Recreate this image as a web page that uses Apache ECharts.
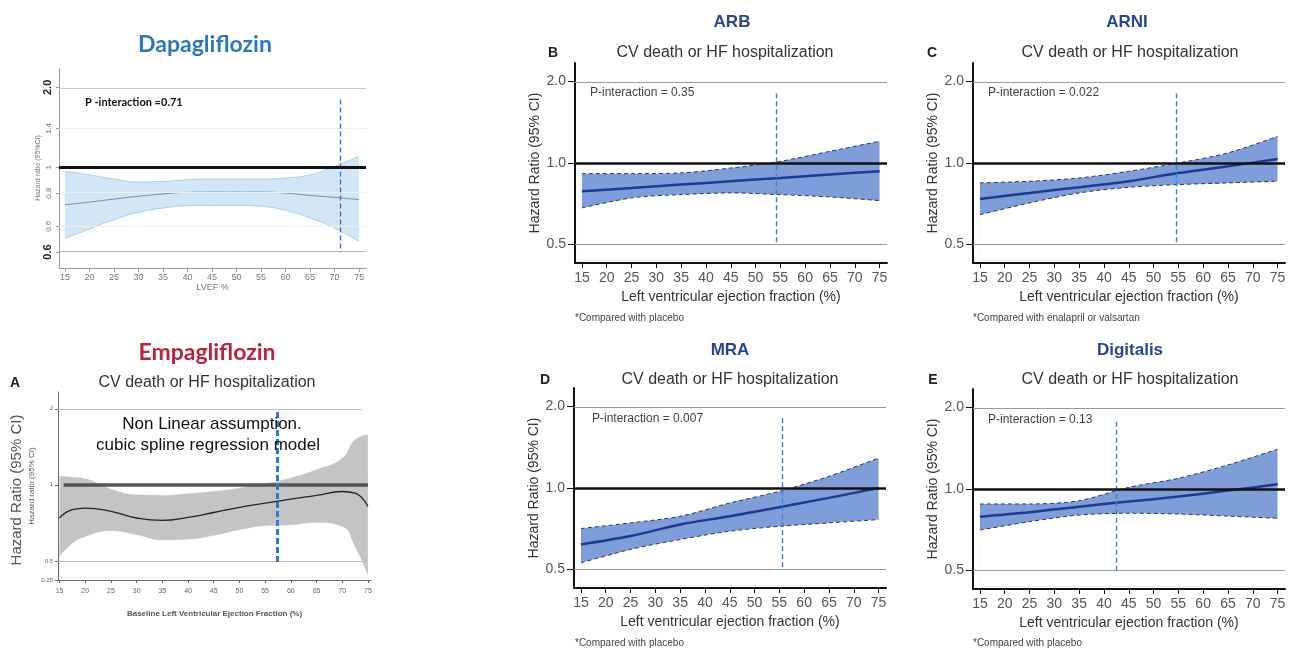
<!DOCTYPE html>
<html lang="en">
<head>
<meta charset="UTF-8">
<title>Hazard ratio vs LVEF</title>
<script src="https://cdn.jsdelivr.net/npm/echarts@6/dist/echarts.min.js"></script>
<style>
  html, body { margin: 0; padding: 0; background: #fff; }
  #main { width: 1295px; height: 653px; }
</style>
</head>
<body>
<div id="main"></div>
<script>
// x ticks shared by every panel
var efTicks = [15, 20, 25, 30, 35, 40, 45, 50, 55, 60, 65, 70, 75];
var efStep = [15, 25, 35, 45, 55, 65, 75];

// Dapagliflozin
var dapaEF = [15, 20, 25, 30, 35, 40, 45, 50, 55, 60, 65, 70, 75];
var dapaHR = [0.723, 0.740, 0.760, 0.778, 0.794, 0.805, 0.807, 0.807, 0.807, 0.800, 0.784, 0.771, 0.756];
var dapaLow = [0.539, 0.586, 0.635, 0.677, 0.703, 0.717, 0.719, 0.719, 0.713, 0.689, 0.645, 0.591, 0.526];
var dapaUp = [0.966, 0.938, 0.904, 0.881, 0.886, 0.899, 0.904, 0.904, 0.904, 0.912, 0.938, 1.009, 1.100];
var dapaYTicks = [2.0, 1.4, 1, 0.8, 0.6, 0.48];
var dapaYLabels = ['2.0', '1.4', '1', '0.8', '0.6', '0.6'];
var dapaCut = 71.2;

// Empagliflozin
var empaEF = [15, 17.5, 20, 25, 30, 35, 40, 45, 50, 55, 60, 65, 70, 72.5, 75];
var empaHR = [0.739, 0.797, 0.809, 0.785, 0.739, 0.723, 0.743, 0.777, 0.814, 0.846, 0.878, 0.908, 0.941, 0.927, 0.821];
var empaLow = [0.521, 0.588, 0.625, 0.658, 0.635, 0.606, 0.610, 0.631, 0.664, 0.689, 0.695, 0.710, 0.685, 0.571, 0.441];
var empaUp = [1.079, 1.072, 1.056, 0.961, 0.913, 0.908, 0.922, 0.941, 0.970, 1.009, 1.063, 1.146, 1.274, 1.505, 1.575];
var empaYTicks = [2, 1, 0.5, 0.42];
var empaYLabels = ['2', '1', '0.5', '0.25'];
var empaCut = 57.4;

// ARB
var arbHR = [0.786, 0.808, 0.832, 0.856, 0.880, 0.906, 0.932];
var arbLow = [0.682, 0.743, 0.764, 0.775, 0.764, 0.749, 0.726];
var arbUp = [0.913, 0.913, 0.919, 0.958, 1.014, 1.104, 1.202];
var arbCut = 54.2;

// ARNI
var arniHR = [0.736, 0.775, 0.813, 0.856, 0.918, 0.972, 1.035];
var arniLow = [0.644, 0.712, 0.775, 0.813, 0.832, 0.844, 0.856];
var arniUp = [0.844, 0.856, 0.880, 0.932, 1.000, 1.089, 1.254];
var arniCut = 54.6;

// MRA
var mraHR = [0.618, 0.664, 0.733, 0.786, 0.849, 0.919, 1.000];
var mraLow = [0.529, 0.593, 0.645, 0.692, 0.722, 0.743, 0.764];
var mraUp = [0.708, 0.743, 0.786, 0.880, 0.972, 1.104, 1.290];
var mraCut = 55.6;

// Digitalis
var digHR = [0.790, 0.820, 0.860, 0.898, 0.937, 0.986, 1.040];
var digLow = [0.705, 0.757, 0.801, 0.813, 0.808, 0.794, 0.779];
var digUp = [0.880, 0.880, 0.905, 1.014, 1.095, 1.227, 1.402];
var digCut = 42.5;

var rightYTicks = [2.0, 1.0, 0.5];
var rightYLabels = ['2.0', '1.0', '0.5'];

var ln = Math.log;
function pairs(xs, ys) { return xs.map(function (x, k) { return [x, ln(ys[k])]; }); }
function tickText(ticks, labels, bold) {
  return function (v) {
    var best = 0;
    for (var j = 1; j < ticks.length; j++) {
      if (Math.abs(ln(ticks[j]) - v) < Math.abs(ln(ticks[best]) - v)) best = j;
    }
    return bold && bold.indexOf(best) >= 0 ? '{b|' + labels[best] + '}' : labels[best];
  };
}

var FONT = 'Liberation Sans, Arial, sans-serif';
var option = { animation: false, grid: [], xAxis: [], yAxis: [], series: [], graphic: [] };

function addPanel(p) {
  var i = option.grid.length;
  option.grid.push({ left: p.left, top: p.top, width: p.width, height: p.height });
  option.xAxis.push({
    type: 'value', gridIndex: i, min: p.xMin, max: p.xMax,
    name: p.xName, nameLocation: 'middle', nameGap: p.xNameGap,
    nameTextStyle: { fontSize: p.xNameSize, color: p.nameColor, fontFamily: FONT, fontWeight: p.xNameWeight || 'normal' },
    axisLine: { onZero: false, lineStyle: { color: p.axisColor, width: p.axisWidth } },
    axisTick: { customValues: efTicks, length: p.xTickLen, lineStyle: { color: p.axisColor, width: 1 } },
    axisLabel: { customValues: efTicks, fontSize: p.xLabelSize, color: p.labelColor, margin: p.xLabelMargin, fontFamily: FONT },
    splitLine: { show: false }
  });
  option.yAxis.push({
    type: 'value', gridIndex: i, min: ln(p.yMin), max: ln(p.yMax),
    name: p.yName, nameLocation: 'middle', nameGap: p.yNameGap,
    nameTextStyle: { fontSize: p.yNameSize, color: p.nameColor, fontFamily: FONT },
    axisLine: { show: true, onZero: false, lineStyle: { color: p.axisColor, width: p.axisWidth } },
    axisTick: { show: true, customValues: p.yTicks.map(ln), length: p.yTickLen, lineStyle: { color: p.axisColor, width: 1 } },
    axisLabel: {
      customValues: p.yTicks.map(ln), fontSize: p.yLabelSize, color: p.labelColor, margin: p.yLabelMargin,
      rotate: p.yLabelRotate || 0, fontFamily: FONT,
      formatter: tickText(p.yTicks, p.yLabels, p.boldIdx),
      rich: { b: { fontSize: 11, fontWeight: 'bold', color: '#222', fontFamily: FONT } }
    },
    splitLine: { show: false }
  });
  // band: upper bound filled in band colour, lower bound filled white on top of it
  var base = ln(p.yMin) + 0.02;
  var lastX = p.ef[p.ef.length - 1];
  var lastLow = p.low[p.low.length - 1];
  option.series.push({
    type: 'line', xAxisIndex: i, yAxisIndex: i, smooth: p.smooth, symbol: 'none',
    data: pairs(p.ef, p.up),
    lineStyle: { color: p.edgeColor, width: p.edgeWidth, type: p.edgeType },
    areaStyle: { color: p.bandColor, opacity: 1, origin: base }
  });
  option.series.push({
    type: 'line', xAxisIndex: i, yAxisIndex: i, smooth: p.smooth, symbol: 'none',
    data: pairs(p.ef, p.low),
    lineStyle: { color: p.edgeColor, width: p.edgeWidth, type: p.edgeType },
    areaStyle: { color: '#fff', opacity: 1, origin: base },
    // hide the anti-aliased seam left under the band's last point
    markLine: {
      silent: true, symbol: 'none', label: { show: false }, animation: false,
      data: [[{ coord: [lastX, ln(lastLow) - 0.01], lineStyle: { color: '#fff', width: 2, type: 'solid' } }, { coord: [lastX, base] }]]
    }
  });
  option.series.push({
    type: 'line', xAxisIndex: i, yAxisIndex: i, smooth: p.smooth, symbol: 'none',
    data: pairs(p.ef, p.hr),
    lineStyle: { color: p.lineColor, width: p.lineWidth },
    markLine: {
      silent: true, symbol: 'none', label: { show: false }, animation: false,
      data: p.marks
    }
  });
}

function hLine(v, color, width) { return { yAxis: ln(v), lineStyle: { color: color, width: width, type: 'solid' } }; }
function segment(x1, x2, v, color, width) {
  return [{ coord: [x1, ln(v)], lineStyle: { color: color, width: width, type: 'solid' } }, { coord: [x2, ln(v)] }];
}
function cutLine(x, top, bottom, color, width, dash) {
  return [{ coord: [x, ln(top)], lineStyle: { color: color, width: width, type: dash } }, { coord: [x, ln(bottom)] }];
}

// right-hand panels share one style
function rightPanel(pos, hr, low, up, cut, cutTop) {
  addPanel({
    left: pos[0], top: pos[1], width: 312, height: 200, xMin: 13.6, xMax: 76.5,
    yMin: 0.427, yMax: 2.34, yTicks: rightYTicks, yLabels: rightYLabels,
    xName: 'Left ventricular ejection fraction (%)', xNameGap: 27, xNameSize: 14,
    yName: 'Hazard Ratio (95% CI)', yNameGap: 29, yNameSize: 14,
    nameColor: '#333', labelColor: '#555', axisColor: '#111', axisWidth: 2,
    xTickLen: 5, xLabelSize: 14, xLabelMargin: 8, yTickLen: 7, yLabelSize: 14, yLabelMargin: 9,
    ef: efStep, hr: hr, low: low, up: up, smooth: 0.3,
    edgeColor: '#2f3652', edgeWidth: 1, edgeType: [4, 3], bandColor: '#7f9dd8',
    lineColor: '#1e3a8e', lineWidth: 2.5,
    marks: [
      hLine(2.0, '#9a9a9a', 1), hLine(0.5, '#9a9a9a', 1),
      cutLine(cut, cutTop, 0.5, '#3a7fd8', 1.4, [5, 3]),
      hLine(1.0, '#111', 2.5)
    ]
  });
}

// Dapagliflozin panel
addPanel({
  left: 59, top: 68, width: 307, height: 200, xMin: 13.8, xMax: 76.4,
  yMin: 0.418, yMax: 2.366, yTicks: dapaYTicks, yLabels: dapaYLabels, boldIdx: [0, 5], yLabelRotate: 90,
  xName: 'LVEF %', xNameGap: 14, xNameSize: 9,
  yName: 'Hazard ratio (95%CI)', yNameGap: 15, yNameSize: 7,
  nameColor: '#777', labelColor: '#777', axisColor: '#999', axisWidth: 1,
  xTickLen: 4, xLabelSize: 9, xLabelMargin: 5, yTickLen: 3, yLabelSize: 8, yLabelMargin: 6,
  ef: dapaEF, hr: dapaHR, low: dapaLow, up: dapaUp, smooth: 0.5,
  edgeColor: '#9cc6e6', edgeWidth: 0.8, edgeType: 'solid', bandColor: '#d3e6f5',
  lineColor: '#6f8ea6', lineWidth: 1,
  marks: [
    hLine(1.4, '#f0f0f0', 1), hLine(0.8, '#f0f0f0', 1), hLine(0.6, '#f0f0f0', 1),
    hLine(2.0, '#c8c8c8', 1.2), hLine(0.48, '#b5b5b5', 1.2),
    cutLine(dapaCut, 1.8, 0.48, '#2f6fd0', 1.3, [5, 3]),
    hLine(1, '#111', 3)
  ]
});

// Empagliflozin panel
addPanel({
  left: 58, top: 392, width: 313, height: 188, xMin: 14.7, xMax: 75.6,
  yMin: 0.42, yMax: 2.33, yTicks: empaYTicks, yLabels: empaYLabels,
  xName: 'Baseline Left Ventricular Ejection Fraction (%)', xNameGap: 30, xNameSize: 8, xNameWeight: 'bold',
  yName: 'Hazard ratio (95% CI)', yNameGap: 22, yNameSize: 8,
  nameColor: '#555', labelColor: '#666', axisColor: '#666', axisWidth: 1,
  xTickLen: 3, xLabelSize: 7, xLabelMargin: 8, yTickLen: 3, yLabelSize: 6, yLabelMargin: 5,
  ef: empaEF, hr: empaHR, low: empaLow, up: empaUp, smooth: 0.5,
  edgeColor: '#c2c2c2', edgeWidth: 0.5, edgeType: 'solid', bandColor: '#c4c4c4',
  lineColor: '#222', lineWidth: 1.3,
  marks: [
    segment(14.7, 73.8, 2, '#bdbdbd', 1.2), segment(14.7, 73.8, 0.5, '#bdbdbd', 1.2),
    segment(15.8, 75, 1, '#555', 3.5),
    cutLine(empaCut, 1.94, 0.49, '#3576d2', 3, [6, 3])
  ]
});

rightPanel([575, 63], arbHR, arbLow, arbUp, arbCut, 1.81);
rightPanel([973, 63], arniHR, arniLow, arniUp, arniCut, 1.81);
rightPanel([574, 388], mraHR, mraLow, mraUp, mraCut, 1.81);
rightPanel([973, 389], digHR, digLow, digUp, digCut, 1.77);

function txt(x, y, s, size, color, opts) {
  opts = opts || {};
  option.graphic.push({
    type: 'text', x: x, y: y, rotation: opts.rotation || 0, z: 100,
    style: {
      text: s, fontSize: size, fontWeight: opts.weight || 'normal', fontFamily: opts.family || FONT,
      fill: color, align: opts.align || 'center', verticalAlign: 'middle'
    }
  });
}

// headings and annotations
txt(205, 45, 'Dapagliflozin', 23, '#2b78c2', { weight: 'bold', family: 'Lato, sans-serif' });
txt(85, 102, 'P -interaction =0.71', 11, '#111', { weight: 'bold', align: 'left', family: 'Lato, sans-serif' });

txt(207, 353, 'Empagliflozin', 23, '#b7243d', { weight: 'bold', family: 'Lato, sans-serif' });
txt(15, 383, 'A', 14, '#222', { weight: 'bold' });
txt(207, 383, 'CV death or HF hospitalization', 16, '#333');
txt(212, 424, 'Non Linear assumption.', 17, '#111');
txt(208, 445, 'cubic spline regression model', 17, '#111');
txt(17, 490, 'Hazard Ratio (95% CI)', 15, '#555', { rotation: Math.PI / 2 });

var heads = [
  ['ARB', 732, 22, 'B', 553, 53, 725, 'P-interaction = 0.35', 590, 93, '*Compared with placebo', 575, 318],
  ['ARNI', 1127, 22, 'C', 932, 53, 1130, 'P-interaction = 0.022', 988, 93, '*Compared with enalapril or valsartan', 973, 318],
  ['MRA', 730, 350, 'D', 545, 380, 730, 'P-interaction = 0.007', 592, 419, '*Compared with placebo', 575, 643],
  ['Digitalis', 1130, 350, 'E', 933, 380, 1130, 'P-interaction = 0.13', 988, 420, '*Compared with placebo', 973, 643]
];
heads.forEach(function (h) {
  txt(h[1], h[2], h[0], 17, '#2c4593', { weight: 'bold' });
  txt(h[4], h[5], h[3], 14, '#222', { weight: 'bold' });
  txt(h[6], h[5], 'CV death or HF hospitalization', 16, '#333');
  txt(h[8], h[9], h[7], 12, '#444', { align: 'left' });
  txt(h[11], h[12], h[10], 10, '#444', { align: 'left' });
});

var myChart = echarts.init(document.getElementById('main'));
myChart.setOption(option);
</script>
</body>
</html>
